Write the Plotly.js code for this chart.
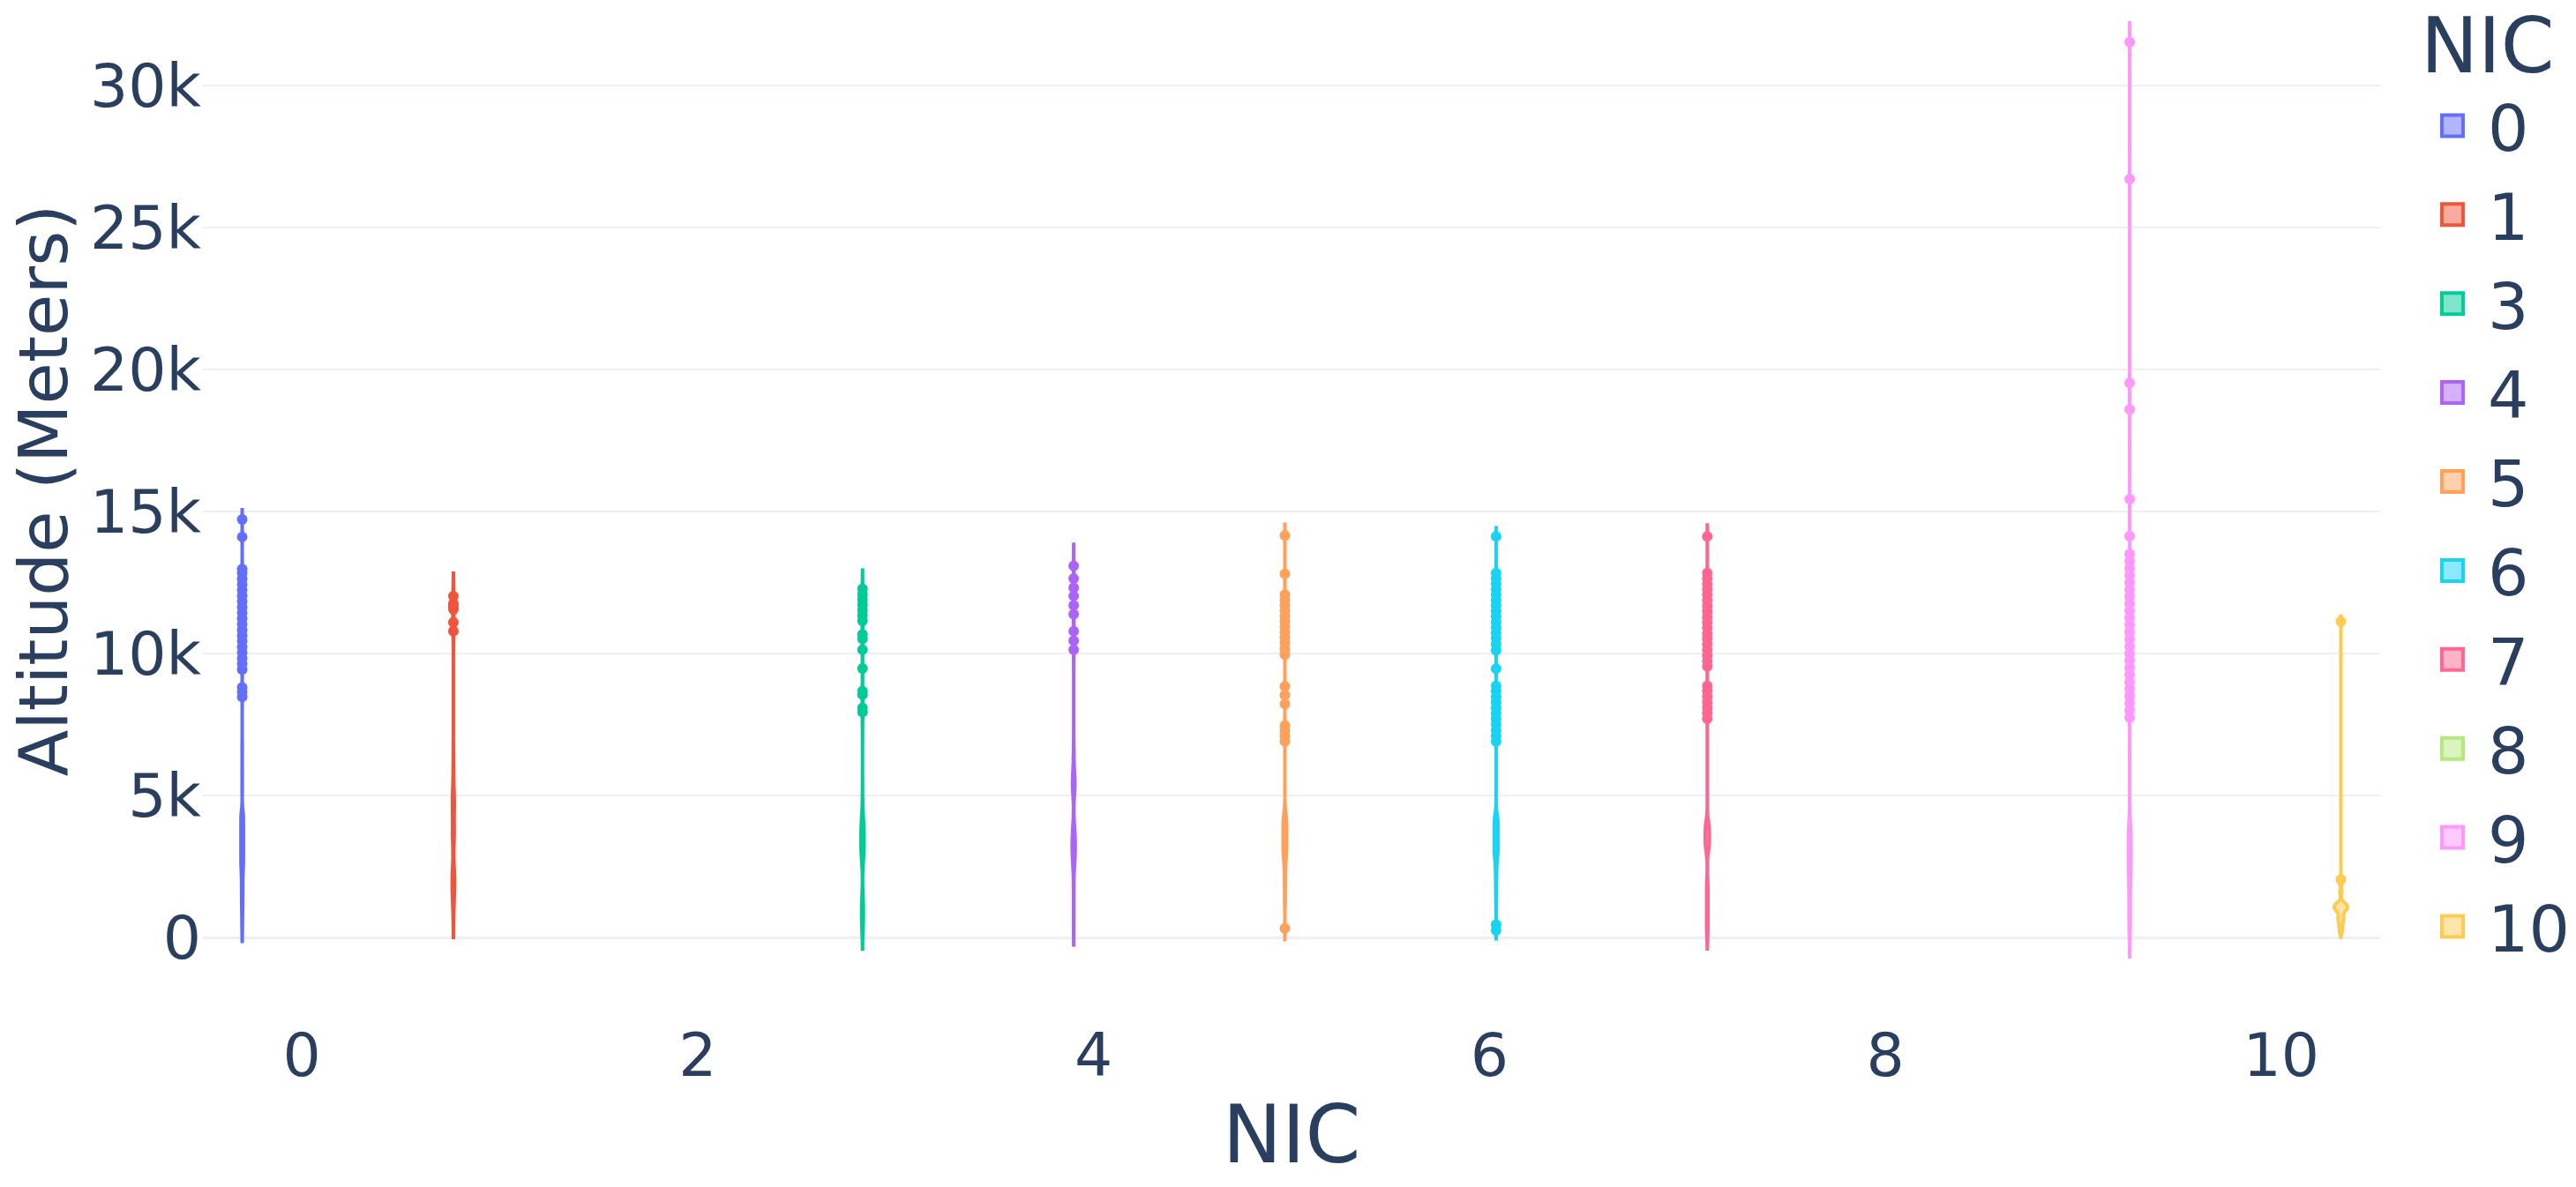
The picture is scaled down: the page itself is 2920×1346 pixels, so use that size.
<!DOCTYPE html>
<html>
<head>
<meta charset="utf-8">
<script src="https://cdn.plot.ly/plotly-3.0.1.min.js"></script>
<style>
html,body{margin:0;padding:0;background:#ffffff;overflow:hidden;width:2920px;height:1346px}
#chart{width:1460px;height:673px;transform:scale(2);transform-origin:0 0}
</style>
</head>
<body>
<div id="chart"></div>
<script>
// NIC categories (legend order) and altitude samples in meters
const nicLevels = [0, 1, 3, 4, 5, 6, 7, 8, 9, 10];

const altNIC0 = [200, 420, 610, 780, 900, 1010, 1100, 1190, 1270, 1350, 1430, 1510, 1590, 1660, 1740, 1810, 1880, 1950,
  2020, 2090, 2160, 2220, 2280, 2330, 2380, 2420, 2460,
  2500, 2540, 2570, 2610, 2640, 2680, 2720, 2750, 2790, 2820, 2860, 2900, 2930, 2970, 3000, 3040, 3080, 3110, 3150, 3180,
  3220, 3260, 3290, 3330, 3360, 3400, 3440, 3470, 3510, 3540, 3580, 3620, 3650, 3690, 3720, 3760, 3800, 3830, 3870, 3900,
  3940, 3980, 4010, 4050, 4080, 4120, 4160, 4190, 4230, 4260, 4300, 4340, 4370, 4410, 4440, 4480,
  5300, 5900, 6600,
  8470, 8640, 8800,
  9430, 9630, 9830, 10030, 10230, 10430, 10630, 10830, 11030, 11230, 11430, 11630, 11830, 12030, 12230, 12430, 12630, 12830, 12970,
  14100, 14720];

const altNIC1 = [800, 1200, 1350, 1500, 1650, 1750, 1850, 1950, 2050, 2150, 2250, 2350, 2500, 3400, 3500, 3600, 3700, 3800, 3900,
  4450, 4550, 4650, 4750, 4850, 4950, 5100, 5600, 6100,
  10780, 11090, 11550, 11650, 11750, 12020];

const altNIC3 = [250, 340, 410, 500, 570, 660, 730, 820, 890, 980, 1050, 1140, 1210, 1300, 1370, 1450,
  2700, 2740, 2790, 2830, 2880, 2920, 2970, 3010, 3060, 3100, 3150, 3190, 3240, 3280, 3330, 3370, 3420, 3460, 3510, 3550,
  3600, 3640, 3690, 3730, 3780, 3820, 3870, 3910, 3960, 4000, 4050, 4090, 4140, 4200,
  4500, 5000,
  7780, 7930, 8080, 8550, 8670, 9470, 10130, 10510, 10670,
  11150, 11340, 11520, 11710, 11890, 12080, 12270];

const altNIC4 = [500, 1200, 1900,
  2600, 2660, 2720, 2780, 2840, 2900, 2960, 3020, 3080, 3140, 3200, 3260, 3320, 3380, 3440, 3500, 3560, 3620, 3680, 3740, 3820, 3900,
  5270, 5300, 5330, 5350, 5380, 5400, 5420, 5440, 5460, 5480, 5500, 5900, 6200, 6500,
  10130, 10450, 10780, 11380, 11690, 12020, 12310, 12640, 13080];

const altNIC5 = [320,
  1200, 1400, 1600, 1750, 1900, 2020, 2140, 2250, 2350, 2440, 2520, 2590, 2650, 2710, 2760, 2800, 2840, 2880, 2910, 2940, 2970,
  3000, 3040, 3060, 3100, 3120, 3160, 3180, 3220, 3240, 3280, 3300, 3340, 3360, 3400, 3420, 3460, 3480, 3520, 3540, 3580,
  3600, 3640, 3660, 3700, 3720, 3760, 3780, 3820, 3840, 3880, 3900, 3940, 3960, 4000, 4020, 4060, 4080, 4120, 4140, 4180,
  4200, 4240, 4270, 4310, 4350,
  4400, 4500,
  6900, 7090, 7270, 7460, 8220, 8530, 8840,
  9960, 10150, 10360, 10550, 10740, 10930, 11120, 11310, 11500, 11690, 11880, 12070,
  12800, 14150];

const altNIC6 = [250, 450,
  1100, 1300, 1480, 1640, 1780, 1900, 2010, 2110, 2200, 2280, 2350, 2420, 2480, 2540, 2590, 2640, 2690, 2730, 2770, 2810,
  2840, 2870, 2900, 2920, 2940, 2960, 2975, 2990,
  3010, 3030, 3050, 3080, 3100, 3120, 3140, 3160, 3190, 3210, 3230, 3250, 3270, 3300, 3320, 3340, 3360, 3380, 3410, 3430,
  3450, 3470, 3490, 3520, 3540, 3560, 3580, 3600, 3630, 3650, 3670, 3690, 3710, 3740, 3760, 3780, 3800, 3820, 3850, 3870,
  3890, 3910, 3930, 3960, 3980, 4000, 4020, 4040, 4070, 4090, 4110, 4130, 4150, 4180, 4200, 4220, 4240, 4260, 4280, 4300,
  4400, 4500,
  6900, 7100, 7300, 7500, 7690, 7890, 8080, 8280, 8470, 8670, 8860,
  9460,
  10110, 10330, 10530, 10720, 10910, 11100, 11300, 11490, 11680, 11870, 12060, 12250, 12450, 12640, 12830,
  14120];

const altNIC7 = [0, 70, 140, 210, 290, 360, 430, 500, 570, 640, 720, 790, 860, 930, 1000, 1070, 1140, 1210, 1280, 1350,
  1420, 1490, 1560, 1630, 1700, 1780, 1880, 1920, 2000, 2100,
  3000, 3020, 3040, 3070, 3090, 3110, 3130, 3150, 3180, 3200, 3220, 3240, 3260, 3290, 3310, 3330, 3350, 3370, 3400, 3420,
  3440, 3460, 3480, 3510, 3530, 3550, 3570, 3590, 3620, 3640, 3660, 3680, 3700, 3730, 3750, 3770, 3790, 3810, 3840, 3860,
  3880, 3900, 3920, 3950, 3970, 3990, 4010, 4030, 4050, 4070, 4080, 4100,
  7700, 7900, 8090, 8280, 8480, 8670, 8860,
  9540, 9730, 9930, 10120, 10320, 10510, 10700, 10900, 11090, 11280, 11480, 11670, 11860, 12060, 12250, 12440, 12640, 12830,
  14120];

const altNIC8 = [];

const altNIC9 = [0, 60, 130, 190, 260, 320, 390, 450, 520, 580, 650, 710, 780, 840, 910, 970, 1040, 1100, 1170, 1230,
  1300, 1360, 1430, 1490, 1560, 1620, 1690, 1750, 1820, 1890, 1960, 2000,
  2050, 2080, 2120, 2150, 2180, 2220, 2250, 2290, 2320, 2350, 2390, 2420, 2450, 2490, 2520, 2560, 2590, 2620, 2660, 2690,
  2720, 2760, 2790, 2830, 2860, 2890, 2930, 2960, 2990, 3030, 3060, 3100, 3130, 3160, 3200, 3230, 3260, 3300, 3330, 3370,
  3400, 3430, 3470, 3500, 3530, 3570, 3600, 3640, 3670, 3700, 3740, 3770, 3800, 3840, 3870, 3910, 3940, 3970, 4010, 4040,
  4080, 4100,
  7740, 8000, 8250, 8500, 8750, 9000, 9250, 9500, 9750, 10000, 10250, 10500, 10750, 11000, 11250, 11500, 11750, 12000,
  12250, 12500, 12750, 13000, 13250, 13500,
  14130, 15430, 18590, 19520, 26700, 31520];

const altNIC10 = [200, 350, 480, 600, 680, 720, 880, 950, 990, 1020, 1050, 1080, 1110, 1135, 1160, 1230, 1600,
  1930, 2040, 11120];

const yTickValues = [0, 5000, 10000, 15000, 20000, 25000, 30000];
const xTickValues = [0, 2, 4, 6, 8, 10];

// styles
const nicColors = ['#636efa', '#EF553B', '#00cc96', '#ab63fa', '#FFA15A', '#19d3f3', '#FF6692', '#B6E880', '#FF97FF', '#FECB52'];
const kdeBandwidth = [170, 400, 330, 380, 200, 150, 200, 200, 340, 100];
const altitudeSeries = [altNIC0, altNIC1, altNIC3, altNIC4, altNIC5, altNIC6, altNIC7, altNIC8, altNIC9, altNIC10];

const traces = nicLevels.map((nic, i) => {
  const vals = altitudeSeries[i];
  const y = vals.length ? vals : [null];
  return {
    type: 'violin',
    name: String(nic),
    legendgroup: String(nic),
    x: y.map(() => nic),
    y: y,
    offsetgroup: String(nic),
    alignmentgroup: 'all',
    scalegroup: 'all',
    scalemode: 'width',
    bandwidth: kdeBandwidth[i],
    points: 'outliers',
    pointpos: 0,
    jitter: 0,
    orientation: 'v',
    line: {color: nicColors[i], width: 2},
    marker: {color: nicColors[i], size: 6},
    box: {visible: false},
    meanline: {visible: false}
  };
});

const layout = {
  width: 1460,
  height: 673,
  paper_bgcolor: '#ffffff',
  plot_bgcolor: '#ffffff',
  font: {family: 'DejaVu Sans, sans-serif', size: 34, color: '#2a3f5f'},
  margin: {l: 115.25, r: 110.5, t: 0, b: 117, pad: 0, autoexpand: false},
  violinmode: 'group',
  violingap: 0.33,
  violingroupgap: 0,
  showlegend: true,
  xaxis: {
    range: [-0.5, 10.5],
    tickmode: 'array',
    tickvals: xTickValues,
    ticktext: xTickValues.map(String),
    showgrid: false,
    zeroline: false,
    showline: false,
    ticks: '',
    ticklabelstandoff: 19,
    tickfont: {size: 34},
    title: {text: 'NIC', font: {size: 45}, standoff: 10}
  },
  yaxis: {
    range: [-1521, 33005],
    tickmode: 'array',
    tickvals: yTickValues,
    ticktext: yTickValues.map(v => v === 0 ? '0' : (v / 1000) + 'k'),
    gridcolor: '#EBF0F8',
    gridwidth: 1,
    zeroline: true,
    zerolinecolor: '#EBF0F8',
    zerolinewidth: 1.5,
    showline: false,
    ticks: '',
    tickfont: {size: 34},
    title: {text: 'Altitude (Meters)', font: {size: 38.5}, standoff: 0}
  },
  legend: {
    title: {text: 'NIC', font: {size: 43.5}},
    font: {size: 36.5},
    x: 1.017, y: 1.028,
    xanchor: 'left', yanchor: 'top',
    maxheight: 700,
    bgcolor: 'rgba(0,0,0,0)',
    tracegroupgap: 0
  }
};

Plotly.newPlot('chart', traces, layout, {staticPlot: true, displayModeBar: false});
</script>
</body>
</html>
